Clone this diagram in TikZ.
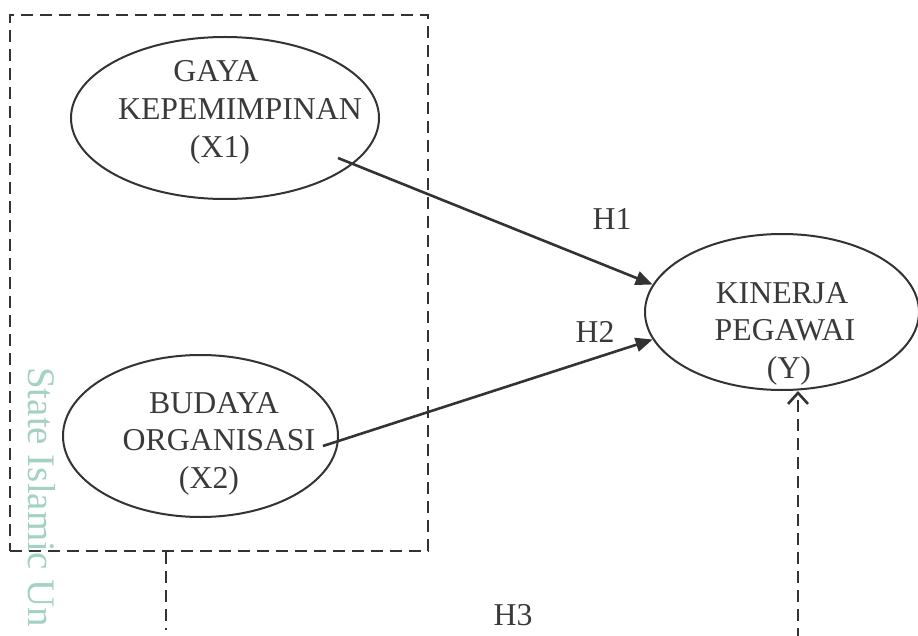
\documentclass[tikz,border=0pt]{standalone}
\usepackage{fontspec}
\setmainfont{Liberation Serif}
\usetikzlibrary{arrows.meta,shapes.geometric,calc}
\definecolor{ink}{HTML}{333333}
\definecolor{txt}{HTML}{3A3A3A}
\definecolor{wmark}{HTML}{A3D2C2}
\begin{document}
\begin{tikzpicture}[x=1pt,y=-1pt,
  var/.style={draw=ink,ellipse,line width=2pt,inner sep=0pt},
  lbl/.style={text=txt,font=\fontsize{31.8}{36}\selectfont,anchor=base,inner sep=0pt},
  dashline/.style={draw=ink,line width=2.8pt,dash pattern=on 12pt off 7pt},
  link/.style={draw=ink,line width=2.6pt,-{Triangle[length=17pt,width=14pt]}},
  openlink/.style={dashline,-{Straight Barb[length=11pt,width=20pt,line width=2.6pt]}}]
\useasboundingbox (0,0) rectangle (918,636);

% repository watermark
\node[rotate=-90,anchor=base west,text=wmark,inner sep=0pt,
  font=\fontsize{39}{39}\selectfont] (wm) at (28,367) {State Islamic Un};

% independent variables and their grouping box
\node[dashline,rectangle,minimum width=418pt,minimum height=536pt,inner sep=0pt] (box) at (219,283) {};
\node[var,minimum width=308pt,minimum height=162pt] (x1) at (225,118) {};
\node[var,minimum width=275pt,minimum height=162pt] (x2) at (200.5,436) {};
\node[var,minimum width=274pt,minimum height=156pt] (y) at (782,312) {};

% variable labels
\node[lbl] (x1a) at (216,82) {GAYA};
\node[lbl] (x1b) at (240,120) {KEPEMIMPINAN};
\node[lbl] (x1c) at (220,158) {(X1)};
\node[lbl] (x2a) at (214,413) {BUDAYA};
\node[lbl] (x2b) at (219,450) {ORGANISASI};
\node[lbl] (x2c) at (209,488) {(X2)};
\node[lbl] (ya) at (782,303) {KINERJA};
\node[lbl] (yb) at (785,340) {PEGAWAI};
\node[lbl] (yc) at (789,378) {(Y)};

% hypothesis labels
\node[lbl] (h1) at (612,230) {H1};
\node[lbl] (h2) at (595,342) {H2};
\node[lbl] (h3) at (513,625) {H3};

% connectors
\coordinate (s1) at (338,158);
\coordinate (s2) at (323,446);
\draw[link] (s1) -- (y.168);
\draw[link] (s2) -- (y.192);

\coordinate (d1) at (166,630);
\draw[dashline] (box.south -| d1) -- (d1);
\coordinate (d2) at (798,640);
\draw[openlink] (d2) -- (d2 |- y.south);
\end{tikzpicture}
\end{document}
